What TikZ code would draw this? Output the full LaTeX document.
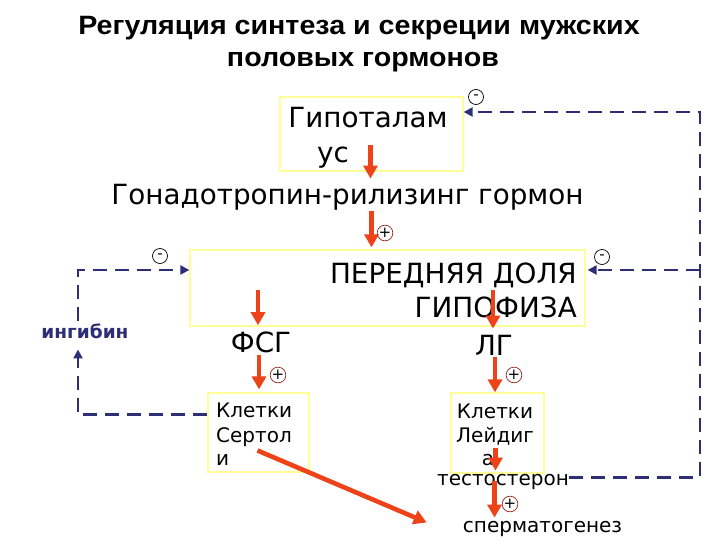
\documentclass[tikz,border=0pt]{standalone}
\usepackage{fontspec}
\setmainfont{DejaVu Sans}
\newfontfamily\titlefont[FakeStretch=1.08]{Liberation Sans}
\usepackage{tikz}
\usetikzlibrary{arrows.meta,calc,positioning}

\definecolor{hormred}{RGB}{238,66,24}
\definecolor{fbnavy}{RGB}{46,46,118}
\definecolor{boxyellow}{RGB}{255,255,150}
\definecolor{plusred}{RGB}{150,40,30}

\begin{document}
\begin{tikzpicture}[x=1pt,y=-1pt,
  cell/.style={draw=boxyellow,line width=1.3pt,fill=white,inner sep=0pt},
  txt/.style={inner sep=0pt,anchor=base},
  big/.style={font=\fontsize{27.8}{27.8}\selectfont},
  small/.style={font=\fontsize{20}{20}\selectfont},
  up/.style={line width=4.6pt,hormred,-{Triangle[width=14pt,length=13pt]}},
  fb/.style={line width=2.8pt,fbnavy,dash pattern=on 14pt off 8pt,-{Triangle[width=9pt,length=9pt]}},
  sgn/.style={circle,draw,line width=0.7pt,inner sep=0pt,minimum size=15pt,font=\fontsize{15}{15}\selectfont}]
\useasboundingbox (0,0) rectangle (720,540);

% Title
\node[txt,font=\titlefont\bfseries\fontsize{26.5}{26.5}\selectfont] (title1) at (359,35) {Регуляция синтеза и секреции мужских};
\node[txt,font=\titlefont\bfseries\fontsize{26.5}{26.5}\selectfont] (title2) at (363,67) {половых гормонов};

% Boxes
\node[cell,minimum width=183pt,minimum height=74pt] (hypo) at (371.5,134) {};
\node[cell,minimum width=395pt,minimum height=76pt] (pit) at (387.5,288) {};
\node[cell,minimum width=101pt,minimum height=79pt] (ser) at (258.5,432.5) {};
\node[cell,minimum width=93pt,minimum height=80pt] (ley) at (497.5,433) {};

% Texts
\node[txt,big] (hyp1) at (368,128) {Гипоталам};
\node[txt,big] (hyp2) at (333,163) {ус};
\node[txt,big] (grh) at (347.5,205) {Гонадотропин-рилизинг гормон};
\node[txt,big,anchor=base east] (pit1) at (577,283) {ПЕРЕДНЯЯ ДОЛЯ};
\node[txt,big,anchor=base east] (pit2) at (577,317) {ГИПОФИЗА};
\node[txt,big] (fsg) at (261,352) {ФСГ};
\node[txt,big] (lg) at (494,355) {ЛГ};
\node[txt,small,anchor=base west] (ser1) at (216,417) {Клетки};
\node[txt,small,anchor=base west] (ser2) at (216,442) {Сертол};
\node[txt,small,anchor=base west] (ser3) at (216,465) {и};
\node[txt,small] (ley1) at (495,418) {Клетки};
\node[txt,small] (ley2) at (495,442) {Лейдиг};
\node[txt,small] (ley3) at (488,465) {а};
\node[txt,small] (tst) at (503,485) {тестостерон};
\node[txt,small] (spg) at (542.5,532) {сперматогенез};
\node[txt,fbnavy,font=\bfseries\fontsize{18.5}{18.5}\selectfont] (inh) at (85,338) {ингибин};

% Stimulating arrows
\draw[up] ($(hypo.center)+(-1,11)$) -- ($(hypo.center |- grh.north)+(-1,-6)$);
\draw[up] (grh.south -| hypo.center) -- ($(pit.north -| hypo.center)+(0,-2)$);
\draw[up] ($(pit.center -| fsg.north)+(-3,2)$) -- ($(fsg.north)+(-3,-6)$);
\draw[up] ($(pit.center -| lg.north)+(-1,2)$) -- ($(lg.north)+(-1,-6)$);
\draw[up] ($(fsg.south)+(-2,2)$) -- ($(ser.north -| fsg.south)+(-2,-3)$);
\draw[up] ($(lg.south)+(1,2)$) -- ($(ley.north -| lg.south)+(1,0)$);
\draw[up] ($(ley.center)+(-2,15)$) -- ($(ley.center |- tst.north)+(-2,-3)$);
\draw[up] ($(tst.center -| ley.center)+(-3,0)$) -- ($(spg.north -| ley.center)+(-3,-3)$);
\draw[up] ($(ser.center)+(-1,18)$) -- ($(spg.west)+(-36,-6)$);

% Feedback loops
\coordinate (rtop) at (700,112);
\coordinate (rmid) at (700,270);
\draw[fb] ($(tst.east)+(0,-4)$) -| (rtop) -- (hypo.east |- rtop);
\draw[fb] (rmid) -- ($(pit.east |- rmid)+(2,0)$);
\draw[fb] ($(ser.north west)+(0,22)$) -| ($(inh.south)+(-7,11)$);
\draw[fb] ($(inh.north)+(-7,-2)$) |- ($(pit.west)+(0,-18)$);

% Signs
\foreach \n/\x/\y in {pa/385/233,pb/278/375,pc/514/375,pd/510/504}
  \node[sgn,draw=plusred] (\n) at (\x,\y) {+};
\foreach \n/\x/\y in {ma/476/97,mb/160/256,mc/602/257}
  \node[sgn] (\n) at (\x,\y) {-};
\end{tikzpicture}
\end{document}
